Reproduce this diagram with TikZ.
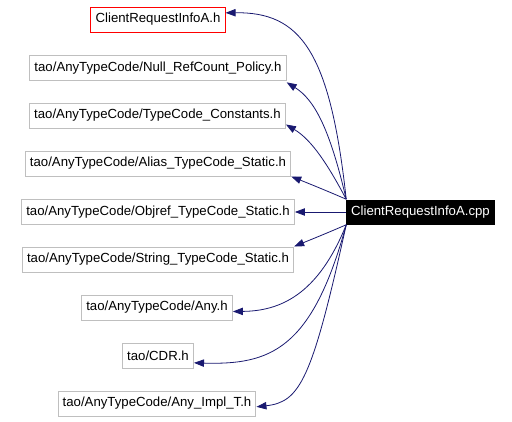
\documentclass[tikz,border=0pt]{standalone}
\usepackage{fontspec}
\setmainfont{Liberation Sans}
\usepackage{xcolor}
\usetikzlibrary{arrows.meta}
\definecolor{edgeblue}{HTML}{191970}
\definecolor{boxgray}{HTML}{BFBFBF}

\begin{document}
\begin{tikzpicture}[x=0.75pt, y=-0.75pt, font=\fontsize{9.9}{11}\selectfont,
  file/.style={draw=boxgray, rectangle, line width=0.75pt, minimum height=18.75pt,
               inner xsep=3.5pt, inner ysep=0pt},
  dep/.style={draw=edgeblue, line width=0.6pt, -{Triangle[length=7.5pt, width=5.5pt]}}]
  \useasboundingbox (0,0) rectangle (512,422);

  % included headers
  \node[file, draw=red] (hdr)    at (158,19.5)  {ClientRequestInfoA.h};
  \node[file]           (nullrc) at (158,68)    {tao/AnyTypeCode/Null\_RefCount\_Policy.h};
  \node[file]           (tcc)    at (157.5,115.5) {tao/AnyTypeCode/TypeCode\_Constants.h};
  \node[file]           (alias)  at (158,163.5) {tao/AnyTypeCode/Alias\_TypeCode\_Static.h};
  \node[file]           (objref) at (158,212)   {tao/AnyTypeCode/Objref\_TypeCode\_Static.h};
  \node[file]           (strtc)  at (158,259.5) {tao/AnyTypeCode/String\_TypeCode\_Static.h};
  \node[file]           (any)    at (157,307.5) {tao/AnyTypeCode/Any.h};
  \node[file]           (cdr)    at (158,355.5) {tao/CDR.h};
  \node[file]           (impl)   at (157,403.5) {tao/AnyTypeCode/Any\_Impl\_T.h};

  % source file
  \node[fill=black, text=white, minimum height=18.75pt, inner xsep=3.5pt,
        inner ysep=0pt] (src) at (420.5,212) {ClientRequestInfoA.cpp};

  % dependencies
  \draw[dep] (src.north west) .. controls (330,50) and (300,12) .. ([yshift=5pt]hdr.east);
  \draw[dep] (src.north west) .. controls (330,130) and (315,100) .. ([yshift=-1pt]nullrc.south east);
  \draw[dep] (src.north west) .. controls (328,165) and (312,140) .. ([yshift=3pt]tcc.south east);
  \draw[dep] (src.north west) .. controls (325,190) and (305,182) .. (alias.south east);
  \draw[dep] (src.west) -- (objref.east);
  \draw[dep] (src.south west) .. controls (325,234) and (305,242) .. (strtc.north east);
  \draw[dep] (src.south west) .. controls (318,295) and (280,311) .. ([yshift=-3pt]any.east);
  \draw[dep] (src.south west) .. controls (312,350) and (270,365) .. ([yshift=-5.5pt]cdr.east);
  \draw[dep] (src.south west) .. controls (312,380) and (300,402) .. ([yshift=-2.5pt]impl.east);
\end{tikzpicture}
\end{document}
